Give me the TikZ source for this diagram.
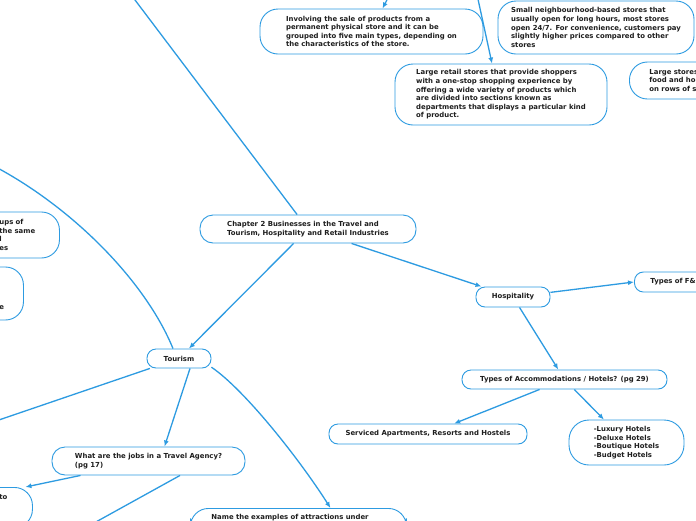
\documentclass[tikz,border=0pt]{standalone}
\usepackage{fontspec}
\setmainfont{DejaVu Sans}
\usetikzlibrary{arrows.meta}
\usepackage{xcolor}
\definecolor{mapblue}{RGB}{45,155,225}
\definecolor{maptext}{RGB}{30,30,30}

\begin{document}
\begin{tikzpicture}[x=1pt,y=-1pt,
  topic/.style={draw=mapblue, line width=0.9pt, rounded corners=9pt, fill=white, text=maptext,
    font=\fontsize{6.9}{8.6}\selectfont\bfseries, align=left, inner xsep=6pt, inner ysep=3pt},
  bubble/.style={topic, rounded corners=18pt},
  link/.style={draw=mapblue, line width=1.3pt},
  arr/.style={link, -{Latex[length=6pt,width=5pt]}}]
  \fill[white] (0,0) rectangle (696,520);
  \useasboundingbox (0,0) rectangle (696,520);
  \clip (0,0) rectangle (696,520);

  % Retail types (top)
  \node[bubble, minimum width=223pt, minimum height=45pt] (storeretail) at (371.5,31.5) {Involving the sale of products from a\\permanent physical store and it can be\\grouped into five main types, depending on\\the characteristics of the store.};
  \node[bubble, minimum width=196pt, minimum height=53pt] (convenience) at (596,27.5) {Small neighbourhood-based stores that\\usually open for long hours, most stores\\open 24/7. For convenience, customers pay\\slightly higher prices compared to other\\stores};
  \node[bubble, minimum width=212pt, minimum height=61pt] (department) at (501,94.5) {Large retail stores that provide shoppers\\with a one-stop shopping experience by\\offering a wide variety of products which\\are divided into sections known as\\departments that displays a particular kind\\of product.};
  \node[bubble, anchor=west, text width=100pt, inner xsep=20pt, minimum height=37pt] (supermarket) at (629,80.5) {Large stores\\food and ho\\on rows of s};

  % Centre
  \node[topic, rounded corners=13pt, minimum width=216pt, minimum height=28pt] (chapter) at (308,229) {Chapter 2 Businesses in the Travel and\\Tourism, Hospitality and Retail Industries};

  % Left edge
  \node[bubble, anchor=west, text width=40pt, inner xsep=20pt, minimum height=46pt] (leftone) at (-21,235) {ups of\\the same\\l\\es};
  \node[bubble, anchor=west, text width=4pt, inner xsep=20pt, minimum height=53pt] (lefttwo) at (-21,293.5) {\strut\\\strut\\\strut\\e};
  \node[bubble, anchor=north west, text width=13pt, inner xsep=20pt, minimum height=40pt] (leftthree) at (-21,487) {to\\\strut\\\strut};

  % Tourism
  \node[topic, minimum width=64pt, minimum height=19pt] (tourism) at (179,358.5) {Tourism};
  \node[topic, rounded corners=13pt, minimum width=193pt, minimum height=28pt] (agency) at (148.5,461) {What are the jobs in a Travel Agency?\\(pg 17)};
  \node[bubble, anchor=north west, text width=174pt, inner xsep=21pt, minimum height=28pt] (attractions) at (190,508) {Name the examples of attractions under\\\strut};

  % Hospitality
  \node[topic, minimum width=74pt, minimum height=20pt] (hospitality) at (513,297) {Hospitality};
  \node[topic, anchor=west, text width=80pt, inner xsep=16pt, minimum height=20pt] (fnb) at (634,282) {Types of F\&};
  \node[topic, minimum width=205pt, minimum height=19pt] (accommodation) at (564.5,379.5) {Types of Accommodations / Hotels? (pg 29)};
  \node[topic, minimum width=198pt, minimum height=20pt] (serviced) at (428,434) {Serviced Apartments, Resorts and Hostels};
  \node[bubble, rounded corners=20pt, minimum width=115pt, minimum height=45pt] (hotels) at (626.5,442.5) {-Luxury Hotels\\-Deluxe Hotels\\-Boutique Hotels\\-Budget Hotels};

  % free ends outside the frame
  \coordinate (retailtop) at (133.5,-2);
  \coordinate (tostore) at (392,-10);
  \coordinate (todept) at (476,-10);
  \coordinate (toleft) at (-10,423);
  \coordinate (arcstart) at (-10,164);
  \coordinate (agencyout) at (85,528);

  % connectors
  \draw[link] (chapter) -- (retailtop);
  \draw[arr] (tostore) -- ([xshift=11pt]storeretail.north);
  \draw[arr] (todept) -- ([xshift=-9pt]department.north);
  \draw[arr] (chapter) -- (tourism);
  \draw[arr] (chapter) -- (hospitality);
  \draw[arr] (hospitality) -- (fnb.west);
  \draw[arr] (hospitality) -- (accommodation);
  \draw[arr] (accommodation) -- (serviced);
  \draw[arr] (accommodation) -- (hotels);
  \draw[link] (tourism) -- (toleft);
  \draw[link] ([xshift=-6pt]tourism.north) .. controls (145,280) and (70,205) .. (arcstart);
  \draw[arr] ([xshift=11pt]tourism.south) -- ([xshift=16pt]agency.north);
  \draw[arr] (tourism.-15) .. controls (245,390) and (300,460) .. ([xshift=32pt]attractions.north);
  \draw[arr] ([xshift=-68pt]agency.south) -- ([xshift=19.5pt]leftthree.north);
  \draw[link] ([xshift=31.5pt]agency.south) -- (agencyout);
\end{tikzpicture}
\end{document}
